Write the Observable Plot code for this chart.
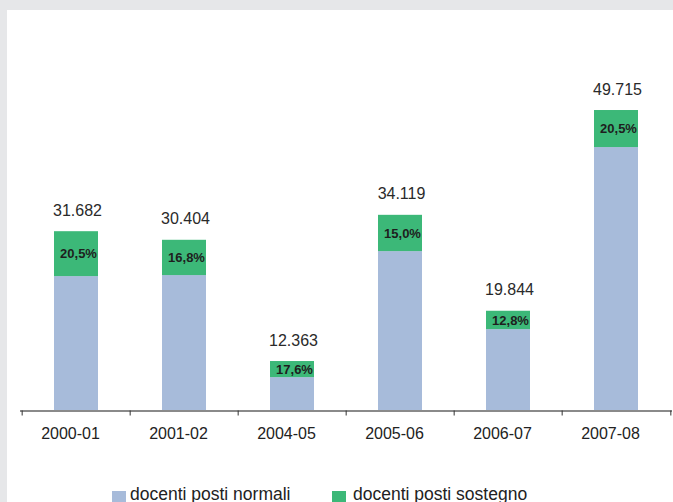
<!DOCTYPE html>
<html>
<head>
<meta charset="utf-8">
<script src="https://cdn.jsdelivr.net/npm/d3@7"></script>
<script src="https://cdn.jsdelivr.net/npm/@observablehq/plot@0.6"></script>
<style>
  html, body { margin: 0; padding: 0; }
  body { background: #e6e7e9; width: 673px; height: 502px; overflow: hidden; position: relative; font-family: "Liberation Sans", Arial, sans-serif; }
  #panel { position: absolute; left: 7px; top: 10px; right: 0; bottom: 0; background: #fff; }
  #chart { position: absolute; left: 0; top: 0; }
  #legend { position: absolute; left: 0; top: 470px; width: 673px; height: 32px; font-size: 17.5px; color: #222; }
  .sw { position: absolute; top: 21px; width: 14px; height: 14px; }
  .lbl { position: absolute; top: 24px; line-height: 0; white-space: nowrap; }
</style>
</head>
<body>
<div id="panel"></div>
<div id="chart"></div>
<div id="legend"></div>
<script>
// ---- data ----
const years = ["2000-01", "2001-02", "2004-05", "2005-06", "2006-07", "2007-08"];
const normali = [25000, 25150, 9970, 28720, 17110, 44200];
const sostegno = [6682, 5254, 2393, 5399, 2734, 5515];
const totalLabels = ["31.682", "30.404", "12.363", "34.119", "19.844", "49.715"];
const pctLabels = ["20,5%", "16,8%", "17,6%", "15,0%", "12,8%", "20,5%"];
const seriesNames = ["docenti posti normali", "docenti posti sostegno"];
const seriesColors = ["#a7bbda", "#3cb878"];

// ---- build table ----
const rows = [];
years.forEach((y, i) => {
  rows.push({year: y, serie: seriesNames[0], value: normali[i]});
  rows.push({year: y, serie: seriesNames[1], value: sostegno[i]});
});
const tops = years.map((y, i) => ({year: y, total: normali[i] + sostegno[i], label: totalLabels[i],
  mid: normali[i] + sostegno[i] / 2, pct: pctLabels[i]}));

const W = 673, H = 470, mL = 20, mR = 1;
const step = (W - mL - mR) / years.length;

const chart = Plot.plot({
  width: W,
  height: H,
  marginLeft: mL,
  marginRight: mR,
  marginTop: 74.5,
  marginBottom: 59.5,
  style: {fontFamily: "'Liberation Sans', Arial, sans-serif", background: "transparent", color: "#222"},
  x: {domain: years, paddingInner: 0.59, paddingOuter: 0.295, axis: null, label: null},
  y: {domain: [5000, 55000], clamp: true, axis: null},
  color: {domain: seriesNames, range: seriesColors},
  marks: [
    Plot.barY(rows, {x: "year", y: "value", fill: "serie", order: seriesNames}),
    Plot.ruleY([5000], {stroke: "#8a8a8a", strokeWidth: 1.8}),
    Plot.axisX({ticks: years, tickSize: 5, text: null, label: null, dx: -step / 2, stroke: "#333"}),
    Plot.axisX({ticks: [years[years.length - 1]], tickSize: 5, text: null, label: null, dx: step / 2, stroke: "#333"}),
    Plot.axisX({ticks: years, tickSize: 0, tickPadding: 17, fontSize: 16, label: null, dx: -6, fill: "#222"}),
    Plot.text(tops, {x: "year", y: "total", text: "label", dy: -21, dx: 1, fontSize: 16, fill: "#2a2a2a"}),
    Plot.text(tops, {x: "year", y: "mid", text: "pct", dx: 2, fontSize: 13, fontWeight: "bold", fill: "#1e1e1e"})
  ]
});
document.getElementById("chart").appendChild(chart);

// ---- legend ----
const legend = document.getElementById("legend");
const swatchX = [112, 332];
const textX = [130, 353];
seriesNames.forEach((name, i) => {
  const sw = document.createElement("div");
  sw.className = "sw";
  sw.style.left = swatchX[i] + "px";
  sw.style.background = seriesColors[i];
  const lb = document.createElement("div");
  lb.className = "lbl";
  lb.style.left = textX[i] + "px";
  lb.textContent = name;
  legend.appendChild(sw);
  legend.appendChild(lb);
});
</script>
</body>
</html>
